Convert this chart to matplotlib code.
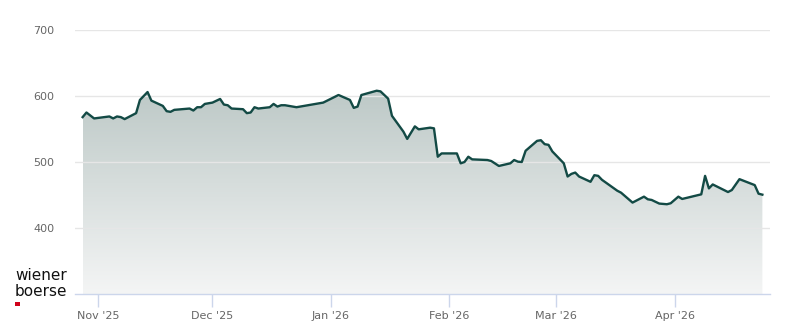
import matplotlib
matplotlib.use("Agg")
import matplotlib.pyplot as plt
import matplotlib.dates as mdates
import numpy as np
import pandas as pd
from matplotlib.patches import Polygon, Rectangle
from matplotlib.colors import LinearSegmentedColormap

dates = ["2025-10-28", "2025-10-29", "2025-10-31", "2025-11-04", "2025-11-05", "2025-11-06",
         "2025-11-07", "2025-11-08", "2025-11-11", "2025-11-12", "2025-11-14", "2025-11-15",
         "2025-11-18", "2025-11-19", "2025-11-20", "2025-11-21", "2025-11-25", "2025-11-26",
         "2025-11-27", "2025-11-28", "2025-11-29", "2025-12-01", "2025-12-03", "2025-12-04",
         "2025-12-05", "2025-12-06", "2025-12-09", "2025-12-10", "2025-12-11", "2025-12-12",
         "2025-12-13", "2025-12-16", "2025-12-17", "2025-12-18", "2025-12-19", "2025-12-20",
         "2025-12-23", "2025-12-30", "2026-01-03", "2026-01-06", "2026-01-07", "2026-01-08",
         "2026-01-09", "2026-01-13", "2026-01-14", "2026-01-16", "2026-01-17", "2026-01-20",
         "2026-01-21", "2026-01-23", "2026-01-24", "2026-01-27", "2026-01-28", "2026-01-29",
         "2026-01-30", "2026-02-03", "2026-02-04", "2026-02-05", "2026-02-06", "2026-02-07",
         "2026-02-11", "2026-02-12", "2026-02-14", "2026-02-17", "2026-02-18", "2026-02-19",
         "2026-02-20", "2026-02-21", "2026-02-24", "2026-02-25", "2026-02-26", "2026-02-27",
         "2026-02-28", "2026-03-02", "2026-03-03", "2026-03-04", "2026-03-05", "2026-03-06",
         "2026-03-07", "2026-03-10", "2026-03-11", "2026-03-12", "2026-03-13", "2026-03-17",
         "2026-03-18", "2026-03-21", "2026-03-24", "2026-03-25", "2026-03-26", "2026-03-28",
         "2026-03-30", "2026-03-31", "2026-04-02", "2026-04-03", "2026-04-08", "2026-04-09",
         "2026-04-10", "2026-04-11", "2026-04-15", "2026-04-16", "2026-04-18", "2026-04-22",
         "2026-04-23", "2026-04-24"]
prices = [568, 575, 566, 569, 566, 569,
          568, 565, 574, 594, 606, 593,
          585, 577, 576, 579, 581, 578,
          583, 583, 588, 590, 595.5, 587,
          586, 581, 580, 574, 575, 583,
          581, 583, 588, 584, 586, 586,
          583, 590, 601.5, 594, 582, 584,
          601.5, 608, 607, 596, 570, 546,
          535, 554, 549.5, 552, 551, 508,
          513, 513, 498, 500, 508, 504,
          503, 501.5, 494, 498, 503, 500.5,
          500, 517, 532, 533, 527, 526,
          516, 504, 498, 478, 482, 484,
          478, 470, 480, 479, 473, 456.5,
          453.5, 438.5, 447.5, 443.5, 442.5, 437,
          436, 437.5, 447.5, 444, 451, 479,
          460, 466, 454.5, 457.5, 474, 465,
          452, 450.5]

y_ticks = [400, 500, 600, 700]
x_tick_dates = ["2025-11-01", "2025-12-01", "2026-01-01", "2026-02-01", "2026-03-01", "2026-04-01"]
x_tick_labels = ["Nov '25", "Dec '25", "Jan '26", "Feb '26", "Mar '26", "Apr '26"]

x = mdates.date2num(pd.to_datetime(dates))
y = np.array(prices, dtype=float)

fig = plt.figure(figsize=(8, 3.24), dpi=100)
ax = fig.add_axes([75 / 800, 30 / 324, 695 / 800, 264 / 324])

ymin, ymax = 300, 700
xmin = mdates.date2num(pd.Timestamp("2025-10-26"))
xmax = mdates.date2num(pd.Timestamp("2026-04-26"))
ax.set_xlim(xmin, xmax)
ax.set_ylim(ymin, ymax)

# gradient fill under the line
cmap = LinearSegmentedColormap.from_list("g", ["#f4f5f5", "#bcc8c6"])
grad = np.linspace(0, 1, 256).reshape(-1, 1)
im = ax.imshow(grad, extent=[x[0], x[-1], ymin, 615], origin="lower", aspect="auto",
               cmap=cmap, zorder=1)
verts = [(x[0], ymin)] + list(zip(x, y)) + [(x[-1], ymin)]
poly = Polygon(verts, closed=True, facecolor="none", edgecolor="none")
ax.add_patch(poly)
im.set_clip_path(poly)

ax.plot(x, y, color="#134a45", lw=1.7, zorder=3, solid_joinstyle="round")

ax.set_yticks(y_ticks)
ax.set_yticklabels([str(v) for v in y_ticks])
ax.grid(axis="y", color="#e6e6e6", lw=1, zorder=0)
ax.set_xticks(mdates.date2num(pd.to_datetime(x_tick_dates)))
ax.set_xticklabels(x_tick_labels)

for s in ["top", "right", "left"]:
    ax.spines[s].set_visible(False)
ax.spines["bottom"].set_color("#ccd6eb")
ax.spines["bottom"].set_linewidth(1)
ax.spines["bottom"].set_zorder(4)
ax.tick_params(axis="y", length=0, pad=15, labelsize=8, labelcolor="#666666")
ax.tick_params(axis="x", length=9, width=1, color="#ccd6eb", pad=3, labelsize=8,
               labelcolor="#666666")

fig.text(15 / 800, 1 - 276 / 324, "wiener", fontsize=11, color="#111111",
         ha="left", va="center")
fig.text(15 / 800, 1 - 292 / 324, "boerse", fontsize=11, color="#111111",
         ha="left", va="center")
fig.patches.append(Rectangle((15 / 800, 1 - 306 / 324), 5 / 800, 4 / 324,
                             transform=fig.transFigure, facecolor="#d0021b",
                             edgecolor="none"))

fig.savefig("out.png", dpi=100)
